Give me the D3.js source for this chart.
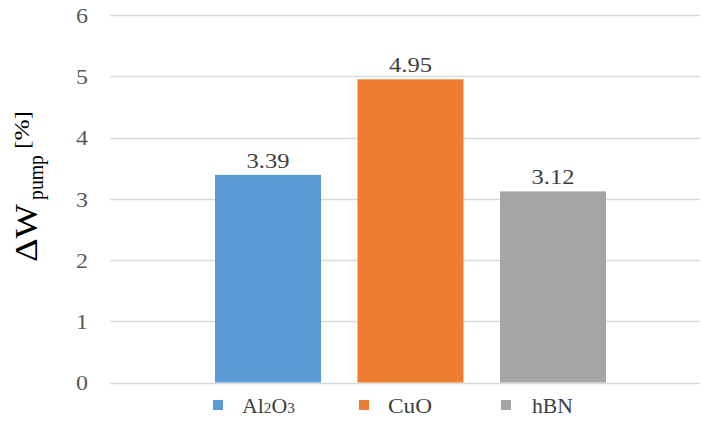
<!DOCTYPE html>
<html><head><meta charset="utf-8">
<script src="https://cdn.jsdelivr.net/npm/d3@7"></script>
<style>body{margin:0;background:#fff}svg{display:block}</style>
</head><body>
<script>
const categories = ["Al2O3", "CuO", "hBN"];
const values = [3.39, 4.95, 3.12];
const labels = ["3.39", "4.95", "3.12"];
const colors = ["#5B9BD5", "#ED7D31", "#A5A5A5"];
const yTicks = [0, 1, 2, 3, 4, 5, 6];

const W = 701, H = 421;
const FF = '"Liberation Serif"';
const svg = d3.select("body").append("svg").attr("width", W).attr("height", H).style("font-family", FF);

const y = d3.scaleLinear().domain([0, 6]).range([382.5, 15]);
const x = d3.scaleBand().domain(categories).range([215, 606]).paddingInner(0.256).paddingOuter(0);

// gridlines
svg.append("g").selectAll("line").data(yTicks).join("line")
  .attr("x1", 110).attr("x2", 700)
  .attr("y1", d => Math.round(y(d)) + 0.5).attr("y2", d => Math.round(y(d)) + 0.5)
  .attr("stroke", "#D9D9D9").attr("stroke-width", 1.3);

// y axis labels
const yAxis = d3.axisLeft(y).tickValues(yTicks).tickSize(0).tickPadding(0).tickFormat(d3.format("d"));
const ga = svg.append("g").attr("transform", "translate(88,0)").call(yAxis);
ga.select(".domain").remove();
ga.selectAll("text").style("font-family", FF).attr("font-size", 22).attr("fill", "#595959").attr("dy", "0.33em")
  .attr("textLength", 12).attr("lengthAdjust", "spacingAndGlyphs");

// bars
svg.append("g").selectAll("rect").data(categories).join("rect")
  .attr("x", d => x(d)).attr("width", x.bandwidth())
  .attr("y", (d, i) => y(values[i])).attr("height", (d, i) => y(0) - y(values[i]))
  .attr("fill", (d, i) => colors[i]);

// data labels
svg.append("g").selectAll("text").data(categories).join("text")
  .style("font-family", FF)
  .attr("x", d => x(d) + x.bandwidth() / 2)
  .attr("y", (d, i) => y(values[i]) - 7)
  .attr("text-anchor", "middle").attr("font-size", 22).attr("fill", "#404040")
  .attr("textLength", 43).attr("lengthAdjust", "spacingAndGlyphs")
  .text((d, i) => labels[i]);

// y title (rotated)
const tg = svg.append("g").attr("transform", "translate(37,262) rotate(-90)").attr("fill", "#000");
tg.append("text").style("font-family", FF).attr("x", 0).attr("y", 0).attr("font-size", 32)
  .attr("textLength", 58).attr("lengthAdjust", "spacingAndGlyphs").text("ΔW");
tg.append("text").style("font-family", FF).attr("x", 62).attr("y", 6).attr("font-size", 21)
  .attr("textLength", 45).attr("lengthAdjust", "spacingAndGlyphs").text("pump");
tg.append("text").style("font-family", FF).attr("x", 113).attr("y", -8).attr("font-size", 21)
  .attr("textLength", 38).attr("lengthAdjust", "spacingAndGlyphs").text("[%]");

// legend
const legX = [213, 359, 501];
const legTextX = [242, 388, 532];
const legW = [53, 44, 41];
const lg = svg.append("g").selectAll("g").data(categories).join("g");
lg.append("rect").attr("x", (d, i) => legX[i]).attr("y", 400).attr("width", 10).attr("height", 10).attr("fill", (d, i) => colors[i]);
const lt = lg.append("text").style("font-family", FF)
  .attr("x", (d, i) => legTextX[i]).attr("y", 413).attr("font-size", 20).attr("fill", "#404040")
  .attr("textLength", (d, i) => legW[i]).attr("lengthAdjust", "spacingAndGlyphs");
lt.each(function(d) {
  const s = d3.select(this);
  if (d === "Al2O3") {
    s.append("tspan").text("Al");
    s.append("tspan").attr("font-size", 14).text("2");
    s.append("tspan").text("O");
    s.append("tspan").attr("font-size", 14).text("3");
  } else s.text(d);
});
</script>
</body></html>
